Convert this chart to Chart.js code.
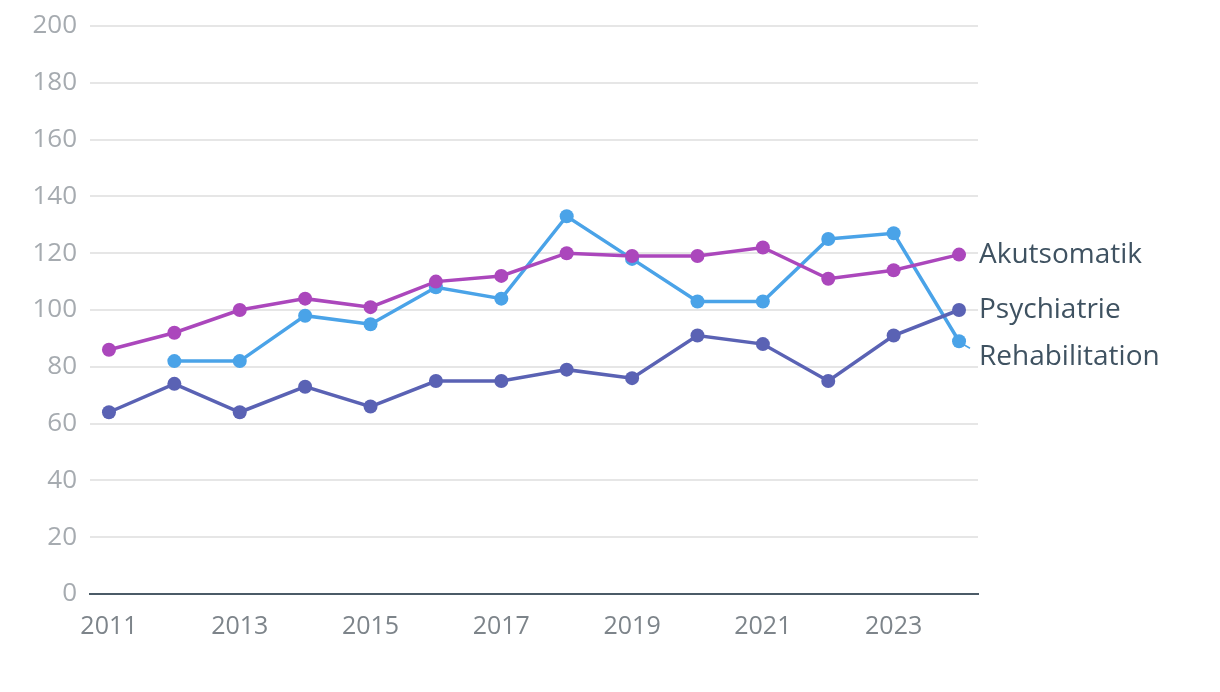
<!DOCTYPE html>
<html>
<head>
<meta charset="utf-8">
<script src="https://cdn.jsdelivr.net/npm/chart.js@4"></script>
<style>
  html, body { margin: 0; padding: 0; background: #fff; }
  #wrap { width: 1220px; height: 692px; }
</style>
</head>
<body>
<div id="wrap"><canvas id="grafico"></canvas></div>
<script>
const anos = [2011, 2012, 2013, 2014, 2015, 2016, 2017, 2018, 2019, 2020, 2021, 2022, 2023, 2024]
const akutsomatik = [86, 92, 100, 104, 101, 110, 112, 120, 119, 119, 122, 111, 114, 119.5]
const psychiatrie = [64, 74, 64, 73, 66, 75, 75, 79, 76, 91, 88, 75, 91, 100]
const rehabilitation = [null, 82, 82, 98, 95, 108, 104, 133, 118, 103, 103, 125, 127, 89]
const ticks_x = [2011, 2013, 2015, 2017, 2019, 2021, 2023]
const ticks_y = [0, 20, 40, 60, 80, 100, 120, 140, 160, 180, 200]

const fonte = '"Open Sans", "Noto Sans", sans-serif'

function serie(nome, valores, cor) {
    return {
        label: nome,
        data: anos.map((a, i) => ({ x: a, y: valores[i] })),
        borderColor: cor,
        backgroundColor: cor,
        borderWidth: 3.5,
        pointRadius: 7,
        pointHoverRadius: 7,
        pointBorderWidth: 0,
        tension: 0
    }
}

// etiquetas no fim de cada linha
const rotulos = {
    id: 'rotulos',
    afterDatasetsDraw(chart) {
        const ctx = chart.ctx
        const itens = chart.data.datasets.map((ds, i) => {
            const pts = chart.getDatasetMeta(i).data
            const p = pts[pts.length - 1]
            return { nome: ds.label, cor: ds.borderColor, px: p.x, py: p.y, y: p.y }
        }).sort((a, b) => a.py - b.py)
        const gap = 47
        for (let i = 1; i < itens.length; i++) {
            if (itens[i].y < itens[i - 1].y + gap) itens[i].y = itens[i - 1].y + gap
        }
        const xTexto = chart.chartArea.right + 1
        ctx.save()
        itens.forEach(it => {
            if (Math.abs(it.y - it.py) > 2) {
                ctx.strokeStyle = it.cor
                ctx.lineWidth = 1.5
                ctx.beginPath()
                ctx.moveTo(it.px + 4, it.py + 3)
                ctx.lineTo(xTexto - 9, it.py + 7)
                ctx.stroke()
            }
            ctx.fillStyle = '#3f5261'
            ctx.font = '28px ' + fonte
            ctx.textAlign = 'left'
            ctx.textBaseline = 'middle'
            ctx.fillText(it.nome, xTexto, it.y)
        })
        ctx.restore()
    }
}

const ctx_grafico = document.getElementById('grafico').getContext('2d')

let grafico = new Chart(ctx_grafico, {
    type: 'line',
    data: {
        datasets: [
            serie('Akutsomatik', akutsomatik, '#ab47bc'),
            serie('Psychiatrie', psychiatrie, '#5a62b4'),
            serie('Rehabilitation', rehabilitation, '#4aa3e8')
        ]
    },
    options: {
        responsive: true,
        maintainAspectRatio: false,
        animation: false,
        layout: {
            padding: { top: 26, right: 242, left: 0, bottom: 0 }
        },
        plugins: {
            legend: { display: false },
            tooltip: { enabled: false },
            title: { display: false }
        },
        scales: {
            x: {
                type: 'linear',
                min: 2010.71,
                max: 2024.29,
                afterBuildTicks: axis => { axis.ticks = ticks_x.map(v => ({ value: v })) },
                afterFit: axis => { axis.height = 98; axis.paddingLeft = 0; axis.paddingRight = 0 },
                grid: { display: false },
                border: { display: true, color: '#4b5b67', width: 2 },
                ticks: {
                    color: '#7d848a',
                    padding: 10,
                    font: { family: fonte, size: 25 },
                    callback: v => String(v)
                }
            },
            y: {
                min: 0,
                max: 200,
                afterBuildTicks: axis => { axis.ticks = ticks_y.map(v => ({ value: v })) },
                afterFit: axis => { axis.width = 90; axis.paddingTop = 0; axis.paddingBottom = 0 },
                grid: { color: '#e6e6e6', lineWidth: 2, drawTicks: false },
                border: { display: false },
                ticks: {
                    color: '#a6abb0',
                    padding: 13,
                    font: { family: fonte, size: 26 }
                }
            }
        }
    },
    plugins: [rotulos]
});
</script>
</body>
</html>
